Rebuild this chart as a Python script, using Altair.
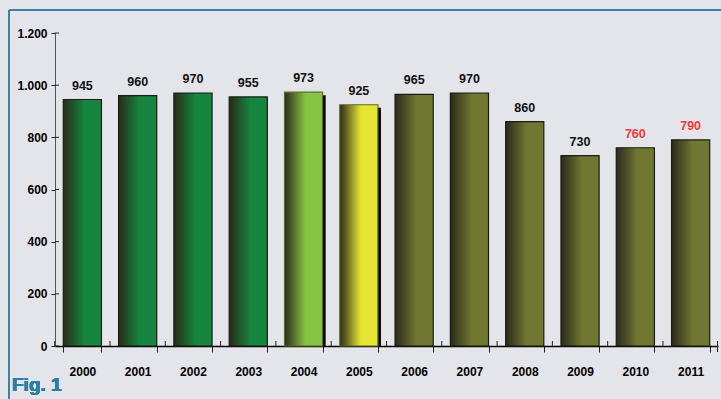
import altair as alt
import pandas as pd

years = ["2000", "2001", "2002", "2003", "2004", "2005", "2006", "2007", "2008", "2009", "2010", "2011"]
values = [945, 960, 970, 955, 973, 925, 965, 970, 860, 730, 760, 790]
groups = ["green", "green", "green", "green", "lime", "yellow", "olive", "olive", "olive", "olive", "olive", "olive"]
label_colors = ["black"] * 10 + ["red", "red"]
y_ticks = [0, 200, 400, 600, 800, 1000, 1200]

df = pd.DataFrame({"year": years, "value": values, "group": groups, "lc": label_colors})
tick_df = pd.DataFrame({"t": y_ticks})

FONT = "Liberation Sans Narrow, Arial Narrow, Liberation Sans, Arial"
DARK = "#2a2a1a"
main_colors = {"green": "#15853f", "lime": "#88c443", "yellow": "#e6e534", "olive": "#6f7731"}
strokes = {"green": "#1b1b12", "lime": "#5f6a28", "yellow": "#5f6a28", "olive": "#1b1b12"}

W, H = 663, 313
P_IN, P_OUT = 0.31, 0.15
STEP = W / (len(years) - P_IN + 2 * P_OUT)

x_scale = alt.Scale(paddingInner=P_IN, paddingOuter=P_OUT)
x_enc = alt.X("year:N", sort=years, scale=x_scale,
              axis=alt.Axis(title=None, labelFont=FONT, labelFontWeight="bold", labelFontSize=12,
                            labelColor="black", labelPadding=14, labelAngle=0,
                            domainColor="black", domainWidth=1.5, tickColor="#222",
                            tickSize=6, tickBand="extent", grid=False))
y_enc = alt.Y("value:Q", scale=alt.Scale(domain=[0, 1200], nice=False),
              axis=alt.Axis(title=None, values=y_ticks, labelFont=FONT, labelFontWeight="bold",
                            labelFontSize=12, labelColor="black", labelPadding=4,
                            labelExpr="replace(format(datum.value, ',d'), ',', '.')",
                            domainColor="#555", tickColor="#222", tickSize=4, grid=False))

base = alt.Chart(df)

shadow = base.transform_filter(
    alt.FieldOneOfPredicate(field="group", oneOf=["lime", "yellow"])
).mark_bar(color="black", xOffset=3, yOffset=3, y2Offset=0).encode(x=x_enc, y=y_enc, y2=alt.datum(0))

layers = [shadow]
for g, c in main_colors.items():
    grad = alt.Gradient(gradient="linear", x1=0, x2=1, y1=0, y2=0,
                        stops=[alt.GradientStop(offset=0, color=DARK),
                               alt.GradientStop(offset=0.55, color=c),
                               alt.GradientStop(offset=1, color=c)])
    layers.append(
        base.transform_filter(alt.datum.group == g)
        .mark_bar(color=grad, stroke=strokes[g], strokeWidth=1.2)
        .encode(x=x_enc, y=y_enc)
    )

labels = base.mark_text(font=FONT, fontWeight="bold", fontSize=12.5, dy=-14, baseline="middle").encode(
    x=alt.X("year:N", sort=years),
    y="value:Q",
    text="value:Q",
    color=alt.Color("lc:N", scale=alt.Scale(domain=["black", "red"], range=["#111111", "#f03a3a"]), legend=None),
)

ytick_up = alt.Chart(tick_df).mark_rule(color="#222", strokeWidth=1).encode(
    y="t:Q", x=alt.value(0), x2=alt.value(4))
xtick_up = base.mark_rule(color="#222", strokeWidth=1, xOffset=-STEP / 2).encode(
    x=alt.X("year:N", sort=years), y=alt.value(H - 5), y2=alt.value(H))
xtick_end = base.mark_rule(color="#222", strokeWidth=1).encode(
    x=alt.value(W - 0.5), y=alt.value(H - 5), y2=alt.value(H + 6))

border_left = base.mark_rule(color="#3a84a3", strokeWidth=2).encode(
    x=alt.value(-46), y=alt.value(-23), y2=alt.value(400))
border_top = base.mark_rule(color="#3a84a3", strokeWidth=2).encode(
    x=alt.value(-46), x2=alt.value(700), y=alt.value(-23))
fig = base.mark_text(text="Fig. 1", font="Liberation Sans, Arial", fontWeight="bold", fontSize=19,
                     color="#2a7fa2", align="left", baseline="middle").encode(
    x=alt.value(-43), y=alt.value(352))

chart = alt.layer(*layers, labels, ytick_up, xtick_up, xtick_end, border_left, border_top, fig).properties(
    width=W, height=H,
    autosize=alt.AutoSizeParams(type="none"),
    padding={"left": 55, "top": 33, "right": 3, "bottom": 53},
    background="#e4e5ea",
).configure_view(stroke=None, fill="#e4e5ea")

chart.save("out.html", embed_options={"renderer": "svg", "actions": False})
